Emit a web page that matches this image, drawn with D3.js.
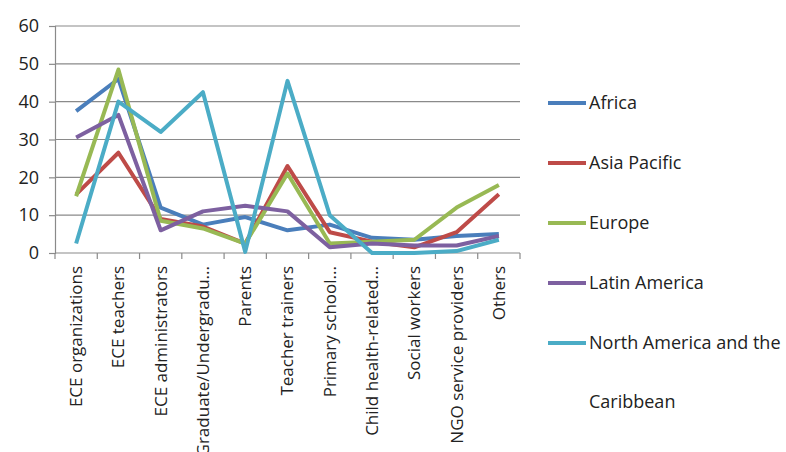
<!DOCTYPE html>
<html>
<head>
<meta charset="utf-8">
<script src="https://cdnjs.cloudflare.com/ajax/libs/d3/7.8.5/d3.min.js"></script>
<style>
  body { margin: 0; background: #fff; }
  text { font-family: "Open Sans", "Noto Sans", sans-serif; fill: #222; }
</style>
</head>
<body>
<div id="chart"></div>
<script>
// categories along x
var categories = ["ECE organizations", "ECE teachers", "ECE administrators", "Graduate/Undergradu...",
  "Parents", "Teacher trainers", "Primary school...", "Child health-related...",
  "Social workers", "NGO service providers", "Others"];
var yTicks = [0, 10, 20, 30, 40, 50, 60];

var seriesNames = ["Africa", "Asia Pacific", "Europe", "Latin America", "North America and the Caribbean"];
var africa = [37.5, 46, 12, 7.5, 9.5, 6, 7.5, 4, 3.5, 4.5, 5];
var asiaPacific = [15.5, 26.5, 9, 7, 2.5, 23, 5.5, 3, 1.5, 5.5, 15.5];
var europe = [15, 48.5, 8.5, 6.5, 2.5, 21, 2.5, 3, 3.5, 12, 18];
var latinAmerica = [30.5, 36.5, 6, 11, 12.5, 11, 1.5, 2.5, 2, 2, 4.5];
var northAmerica = [2.5, 40, 32, 42.5, 0.3, 45.5, 10, 0, 0, 0.5, 3.5];
var colors = ["#4A7EBB", "#BE4B48", "#98B954", "#7D60A0", "#4BACC6"];

var allSeries = [africa, asiaPacific, europe, latinAmerica, northAmerica];

var width = 786, height = 452;
var plotLeft = 55, plotRight = 520, plotTop = 26, plotBottom = 253;

var svg = d3.select('#chart').append('svg').attr('width', width).attr('height', height);

var x = d3.scaleBand().domain(categories).range([plotLeft, plotRight]);
var y = d3.scaleLinear().domain([0, 60]).range([plotBottom, plotTop]);

// gridlines
svg.append('g').selectAll('line').data(yTicks.slice(1)).enter().append('line')
  .attr('x1', plotLeft).attr('x2', plotRight)
  .attr('y1', function (d) { return y(d); }).attr('y2', function (d) { return y(d); })
  .style('stroke', '#8a8a8a').style('stroke-width', 1.2);

// y axis
var yAxis = svg.append('g').attr('transform', 'translate(' + plotLeft + ',0)')
  .call(d3.axisLeft(y).tickValues(yTicks).tickSize(6).tickPadding(10));
yAxis.select('.domain').style('stroke', '#8a8a8a').style('stroke-width', 1.2);
yAxis.selectAll('line').style('stroke', '#8a8a8a').style('stroke-width', 1.2);
yAxis.selectAll('text').style('font-size', '18px').style('font-family', '"Open Sans", sans-serif').attr('fill', '#222');

// x axis: ticks at category boundaries
var xg = svg.append('g');
xg.append('line').attr('x1', plotLeft).attr('x2', plotRight).attr('y1', plotBottom).attr('y2', plotBottom)
  .style('stroke', '#8a8a8a').style('stroke-width', 1.2);
var bounds = categories.map(function (c) { return x(c); }).concat([plotRight]);
xg.selectAll('line.tick').data(bounds).enter().append('line').attr('class', 'tick')
  .attr('x1', function (d) { return d; }).attr('x2', function (d) { return d; })
  .attr('y1', plotBottom).attr('y2', plotBottom + 6)
  .style('stroke', '#8a8a8a').style('stroke-width', 1.2);
xg.selectAll('text').data(categories).enter().append('text')
  .attr('transform', function (d) { return 'translate(' + (x(d) + x.bandwidth() / 2) + ',' + (plotBottom + 13) + ') rotate(-90)'; })
  .attr('text-anchor', 'end').attr('dy', '0.35em')
  .style('font-size', '17px')
  .text(function (d) { return d; });

// lines
var line = d3.line()
  .x(function (d, i) { return x(categories[i]) + x.bandwidth() / 2; })
  .y(function (d) { return y(d); });

svg.append('g').selectAll('path').data(allSeries).enter().append('path')
  .attr('d', line)
  .style('fill', 'none')
  .style('stroke', function (d, i) { return colors[i]; })
  .style('stroke-width', 4)
  .style('stroke-linejoin', 'round');

// legend
var legendY = [103, 163, 223, 283, 343];
var lg = svg.append('g');
seriesNames.forEach(function (name, i) {
  lg.append('line').attr('x1', 548).attr('x2', 586).attr('y1', legendY[i]).attr('y2', legendY[i])
    .style('stroke', colors[i]).style('stroke-width', 4);
  var t = lg.append('text').attr('x', 589).attr('y', legendY[i]).attr('dy', '0.35em').style('font-size', '18px');
  if (i == 4) {
    t.append('tspan').attr('x', 589).text('North America and the');
    t.append('tspan').attr('x', 589).attr('dy', 59).text('Caribbean');
  } else {
    t.text(name);
  }
});
</script>
</body>
</html>
